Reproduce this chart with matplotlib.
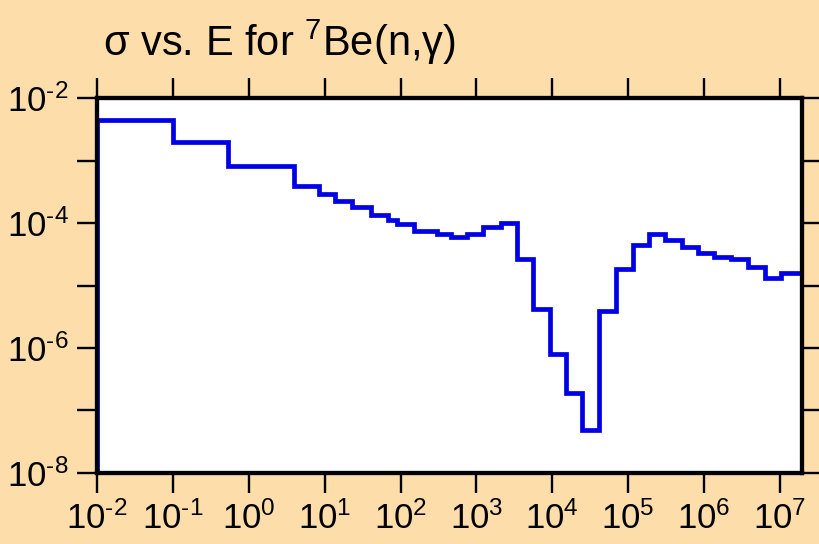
import numpy as np
import matplotlib
matplotlib.use('Agg')
import matplotlib.pyplot as plt
from matplotlib.ticker import FixedLocator, NullLocator

plt.rcParams['font.family'] = ['Liberation Sans', 'DejaVu Sans']
plt.rcParams['mathtext.default'] = 'regular'
plt.rcParams['mathtext.fontset'] = 'custom'
plt.rcParams['mathtext.rm'] = 'Liberation Sans'
plt.rcParams['mathtext.it'] = 'Liberation Sans'

# bin edges (eV) and cross sections
edges = [0.01, 0.1, 0.54, 4.0, 8.3, 13.8, 22.7, 40.4, 68.9, 90.5, 150, 304,
         457, 743, 1230, 2085, 3388, 5600, 9290, 15100, 25000, 41500, 68900,
         1.14e5, 1.86e5, 3.07e5, 5.09e5, 8.28e5, 1.37e6, 2.28e6, 3.78e6,
         6.27e6, 1.02e7, 1.95e7]
sigma = [4.6e-3, 2.02e-3, 8.2e-4, 3.97e-4, 2.92e-4, 2.28e-4, 1.79e-4,
         1.36e-4, 1.12e-4, 9.7e-5, 7.56e-5, 6.62e-5, 6.06e-5, 6.62e-5,
         8.75e-5, 1.01e-4, 2.66e-5, 4.16e-6, 7.98e-7, 1.91e-7, 4.83e-8,
         3.94e-6, 1.82e-5, 4.41e-5, 6.69e-5, 5.35e-5, 4.19e-5, 3.28e-5,
         2.83e-5, 2.69e-5, 1.96e-5, 1.30e-5, 1.60e-5]

xexp = list(range(-2, 8))
yexp = list(range(-8, -1))
ylabeled = [-8, -6, -4, -2]


def lab(k):
    return r'$10^{\text{%d}}$' % k


bg = '#fddeab'
fig = plt.figure(figsize=(8.2, 5.44), dpi=100, facecolor=bg)
ax = fig.add_axes([0.1183, 0.131, 0.8597, 0.688])
ax.set_facecolor('white')

ax.stairs(sigma, edges, baseline=1e-10, color='#0000e6', linewidth=3.4)

ax.set_xscale('log')
ax.set_yscale('log')
ax.set_xlim(0.01, 1.95e7)
ax.set_ylim(1e-8, 1e-2)

ax.xaxis.set_major_locator(FixedLocator([10.0 ** k for k in xexp]))
ax.xaxis.set_minor_locator(NullLocator())
ax.yaxis.set_major_locator(FixedLocator([10.0 ** k for k in yexp]))
ax.yaxis.set_minor_locator(NullLocator())
ax.set_xticklabels([lab(k) for k in xexp])
ax.set_yticklabels([lab(k) if k in ylabeled else '' for k in yexp])

ax.tick_params(which='major', direction='out', length=14.5, width=1.7,
               labelsize=25, pad=6, top=True, right=True,
               labeltop=False, labelright=False)

for s in ax.spines.values():
    s.set_linewidth(3.1)

fig.text(103 / 820, 1 - 55.7 / 544, r'σ vs. E for $^{7}$Be(n,γ)',
         fontsize=30, ha='left', va='baseline')

fig.savefig('out.png', dpi=100, facecolor=bg)
